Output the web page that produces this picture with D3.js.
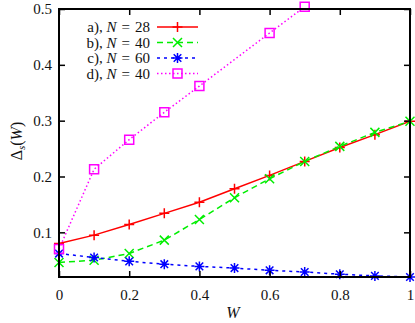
<!DOCTYPE html>
<html>
<head>
<meta charset="utf-8">
<script src="https://cdn.jsdelivr.net/npm/d3@7"></script>
<style>
  body { margin: 0; background: #fff; }
</style>
</head>
<body>
<svg></svg>
<script>
var W = 415, H = 323;
var margin = {left: 59, right: 5, top: 9, bottom: 46};
var FONT = "'Liberation Serif'";

// data
var wA = [0, 0.1, 0.2, 0.3, 0.4, 0.5, 0.6, 0.7, 0.8, 0.9, 1.0];
var seriesA = [0.080, 0.095, 0.114, 0.134, 0.154, 0.178, 0.202, 0.227, 0.252, 0.275, 0.299];
var seriesB = [0.046, 0.050, 0.062, 0.086, 0.123, 0.162, 0.196, 0.227, 0.254, 0.279, 0.299];
var seriesC = [0.062, 0.055, 0.048, 0.043, 0.039, 0.036, 0.032, 0.029, 0.025, 0.022, 0.020];
var wD = [0, 0.1, 0.2, 0.3, 0.4, 0.6, 0.7];
var seriesD = [0.070, 0.213, 0.266, 0.315, 0.362, 0.457, 0.504];

var xTicks = [0, 0.2, 0.4, 0.6, 0.8, 1];
var xTickLabels = ['0', '0.2', '0.4', '0.6', '0.8', '1'];
var yTicks = [0.1, 0.2, 0.3, 0.4, 0.5];
var yTickLabels = ['0.1', '0.2', '0.3', '0.4', '0.5'];

var legendLabels = [
  {pre: 'a), ', n: '28'},
  {pre: 'b), ', n: '40'},
  {pre: 'c), ', n: '60'},
  {pre: 'd), ', n: '40'}
];

var styles = [
  {color: '#ff0000', dash: null, marker: 'plus'},
  {color: '#00ee00', dash: '6,4', marker: 'cross'},
  {color: '#0000ff', dash: '3,4', marker: 'star'},
  {color: '#ff00ff', dash: '1.5,2.5', marker: 'square'}
];

var series = [
  {w: wA, v: seriesA},
  {w: wA, v: seriesB},
  {w: wA, v: seriesC},
  {w: wD, v: seriesD}
];

var svg = d3.select('svg').attr('width', W).attr('height', H);

var x = d3.scaleLinear().domain([0, 1]).range([margin.left, W - margin.right]);
var y = d3.scaleLinear().domain([0.02, 0.5]).range([H - margin.bottom, margin.top]);

svg.append('clipPath').attr('id', 'clip').append('rect')
  .attr('x', x(0)).attr('y', y(0.5))
  .attr('width', x(1) - x(0)).attr('height', y(0.02) - y(0.5));

var markerPath = function(type) {
  if (type === 'plus') return 'M-5,0H5M0,-5V5';
  if (type === 'cross') return 'M-4.5,-4.5L4.5,4.5M-4.5,4.5L4.5,-4.5';
  if (type === 'star') return 'M-5,0H5M0,-5V5M-3.8,-3.8L3.8,3.8M-3.8,3.8L3.8,-3.8';
  return 'M-4.5,-4.5H4.5V4.5H-4.5Z';
};

var line = d3.line()
  .x(function(d) { return x(d[0]); })
  .y(function(d) { return y(d[1]); });

// series
series.forEach(function(s, i) {
  var pts = s.w.map(function(w, j) { return [w, s.v[j]]; });
  var st = styles[i];
  svg.append('path')
    .datum(pts)
    .attr('clip-path', 'url(#clip)')
    .attr('d', line)
    .attr('fill', 'none')
    .attr('stroke', st.color)
    .attr('stroke-width', 1.5)
    .attr('stroke-dasharray', st.dash);
  svg.append('g').selectAll('path').data(pts).enter().append('path')
    .attr('transform', function(d) { return 'translate(' + x(d[0]) + ',' + y(d[1]) + ')'; })
    .attr('d', markerPath(st.marker))
    .attr('fill', 'none')
    .attr('stroke', st.color)
    .attr('stroke-width', 1.5);
});

// axes with inward ticks on all four sides
var styleAxis = function(g) {
  g.select('.domain').remove();
  g.selectAll('line').attr('stroke', '#000').attr('stroke-width', 1.5);
  g.selectAll('text').attr('fill', '#111')
    .style('font-family', FONT).style('font-size', '15px');
};

svg.append('g')
  .attr('transform', 'translate(0,' + y(0.02) + ')')
  .call(d3.axisBottom(x).tickValues(xTicks).tickSize(-6).tickPadding(12)
    .tickFormat(function(d, i) { return xTickLabels[i]; }))
  .call(styleAxis);

svg.append('g')
  .attr('transform', 'translate(0,' + y(0.5) + ')')
  .call(d3.axisTop(x).tickValues(xTicks).tickSize(-6).tickFormat(''))
  .call(styleAxis);

svg.append('g')
  .attr('transform', 'translate(' + x(0) + ',0)')
  .call(d3.axisLeft(y).tickValues(yTicks).tickSize(-6).tickPadding(7)
    .tickFormat(function(d, i) { return yTickLabels[i]; }))
  .call(styleAxis);

svg.append('g')
  .attr('transform', 'translate(' + x(1) + ',0)')
  .call(d3.axisRight(y).tickValues(yTicks).tickSize(-6).tickFormat(''))
  .call(styleAxis);

// frame
svg.append('rect')
  .attr('x', x(0)).attr('y', y(0.5))
  .attr('width', x(1) - x(0)).attr('height', y(0.02) - y(0.5))
  .attr('fill', 'none').attr('stroke', '#000').attr('stroke-width', 2);

// legend
var legend = svg.append('g');
legendLabels.forEach(function(lab, i) {
  var ly = 27 + i * 15.5;
  var st = styles[i];
  var t = legend.append('text')
    .attr('x', 150).attr('y', ly + 5)
    .attr('text-anchor', 'end')
    .attr('fill', '#111')
    .style('font-family', FONT).style('font-size', '15px');
  t.append('tspan').text(lab.pre);
  t.append('tspan').attr('font-style', 'italic').text('N');
  t.append('tspan').attr('dx', 5).text('=');
  t.append('tspan').attr('dx', 5).text(lab.n);
  legend.append('line')
    .attr('x1', 157).attr('x2', 198).attr('y1', ly).attr('y2', ly)
    .attr('stroke', st.color).attr('stroke-width', 1.5)
    .attr('stroke-dasharray', st.dash);
  legend.append('path')
    .attr('transform', 'translate(177.5,' + ly + ')')
    .attr('d', markerPath(st.marker))
    .attr('fill', 'none').attr('stroke', st.color).attr('stroke-width', 1.5);
});

// axis titles
svg.append('text')
  .attr('x', 233).attr('y', 318)
  .attr('text-anchor', 'middle')
  .attr('font-style', 'italic').attr('fill', '#111')
  .style('font-family', FONT).style('font-size', '16px')
  .text('W');

var yl = svg.append('text')
  .attr('transform', 'translate(22,141) rotate(-90)')
  .attr('text-anchor', 'middle')
  .attr('fill', '#111')
  .style('font-family', FONT).style('font-size', '16px');
yl.append('tspan').text('Δ');
yl.append('tspan').attr('font-size', 11).attr('font-style', 'italic').attr('dy', 3).text('s');
yl.append('tspan').attr('dy', -3).text('(');
yl.append('tspan').attr('font-style', 'italic').text('W');
yl.append('tspan').text(')');
</script>
</body>
</html>
